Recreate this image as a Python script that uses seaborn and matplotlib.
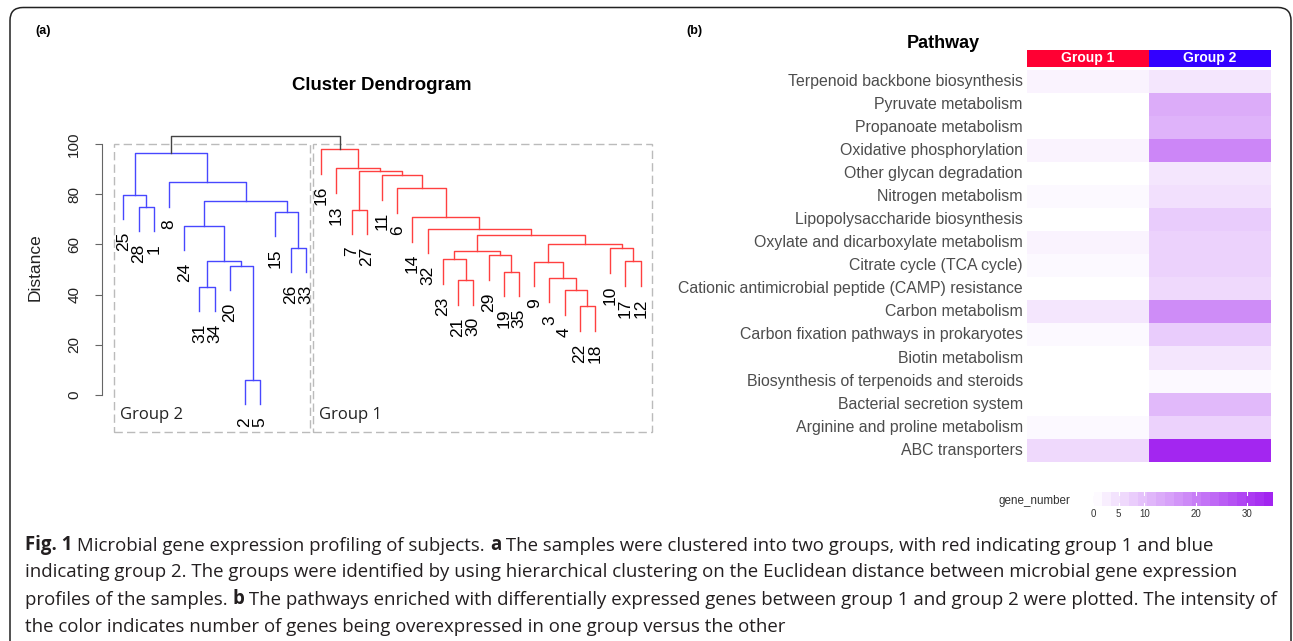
import numpy as np
import pandas as pd
import seaborn as sns
import matplotlib.pyplot as plt
from matplotlib.colors import LinearSegmentedColormap, ListedColormap, Normalize
from matplotlib.patches import Rectangle, FancyBboxPatch
from matplotlib.cm import ScalarMappable

plt.rcParams['font.family'] = ['Liberation Sans', 'DejaVu Sans']

# (a) hierarchical clustering of the 35 samples
leaf_order = [25, 28, 1, 8, 24, 31, 34, 20, 2, 5, 15, 26, 33,
              16, 13, 7, 27, 11, 6, 14, 32, 23, 21, 30, 29, 19, 35, 9, 3, 4, 22, 18, 10, 17, 12]
# hclust style merges: negative = sample id, positive = earlier merge (1-based)
merge_left = [-2, -22, -4, -31, -21, -3, -19, -20, -9, -17, 4, -23, -29, 12, -10, -26, 9,
              14, -32, -24, -14, -15, -7, -28, 20, -25, -6, -8, -11, 23, -13, 26, -16, 32]
merge_right = [-5, -18, 2, -34, -30, 3, -35, 1, 6, -12, 8, 5, 7, 13, 10, -33, 15,
               17, 18, 11, 19, 16, -27, -1, 22, 24, 21, 25, 27, 29, 30, 28, 31, 33]
merge_height = [6.0, 35.3, 41.7, 43.0, 45.7, 46.6, 49.1, 51.4, 53.1, 53.2, 53.4, 54.0, 55.6,
                57.4, 58.4, 58.7, 60.0, 63.6, 66.1, 67.3, 70.8, 73.0, 73.7, 74.9, 77.3, 79.7,
                82.3, 84.7, 87.5, 89.3, 90.3, 96.5, 97.9, 103.2]
group2_samples = leaf_order[:13]
group1_samples = leaf_order[13:]
cut_height = 100
distance_ticks = [0, 20, 40, 60, 80, 100]

# (b) pathways enriched with DE genes
pathways = ["Terpenoid backbone biosynthesis", "Pyruvate metabolism", "Propanoate metabolism",
            "Oxidative phosphorylation", "Other glycan degradation", "Nitrogen metabolism",
            "Lipopolysaccharide biosynthesis", "Oxylate and dicarboxylate metabolism",
            "Citrate cycle (TCA cycle)", "Cationic antimicrobial peptide (CAMP) resistance",
            "Carbon metabolism", "Carbon fixation pathways in prokaryotes", "Biotin metabolism",
            "Biosynthesis of terpenoids and steroids", "Bacterial secretion system",
            "Arginine and proline metabolism", "ABC transporters"]
group1_genes = [2, 0, 0, 2, 0, 1, 0, 2, 1, 0, 4, 1, 0, 0, 0, 1, 6]
group2_genes = [4, 13, 12, 19, 4, 5, 8, 7, 7, 6, 18, 8, 4, 1, 11, 7, 34]
group_names = ["Group 1", "Group 2"]
legend_ticks = [0, 5, 10, 20, 30]

RED = "#FF4040"
BLUE = "#4848FF"
GRAY = "#444444"
W, H = 1293, 641

fig = plt.figure(figsize=(W / 100, H / 100), dpi=100)


def frac(x0, y0, x1, y1):
    # pixel box -> figure fraction rect
    return [x0 / W, 1 - y1 / H, (x1 - x0) / W, (y1 - y0) / H]


# ---- dendrogram ----
ax = fig.add_axes(frac(102, 125, 662, 432))
ax.patch.set_visible(False)
xpos = {s: i + 1 for i, s in enumerate(leaf_order)}
hang = 0.1 * (max(merge_height) - min(merge_height))
node_x, node_members = {}, {}


def child(c, parent_h):
    if c < 0:
        return xpos[-c], parent_h - hang, {-c}
    return node_x[c], merge_height[c - 1], node_members[c]


for k, (a, b, h) in enumerate(zip(merge_left, merge_right, merge_height), start=1):
    xa, ya, ma = child(a, h)
    xb, yb, mb = child(b, h)
    members = ma | mb
    node_x[k] = (xa + xb) / 2
    node_members[k] = members
    if members <= set(group2_samples):
        col = BLUE
    elif members <= set(group1_samples):
        col = RED
    else:
        col = GRAY
    ax.plot([xa, xa, xb, xb], [ya, h, h, yb], color=col, lw=1)
    for c, x, y in ((a, xa, ya), (b, xb, yb)):
        if c < 0:
            ax.annotate(str(-c), (x, y), xytext=(0, -9), textcoords='offset points',
                        rotation=90, ha='center', va='top', fontsize=12.5)

ax.set_xlim(-0.4, 36.4)
ax.set_ylim(-14.7, 107.5)
ybot = ax.get_ylim()[0]

# dashed boxes around the two groups
for name, members, lo, hi in (("Group 2", group2_samples, 0.6, 0.3),
                              ("Group 1", group1_samples, 0.55, 0.75)):
    x0 = xpos[members[0]] - lo
    x1 = xpos[members[-1]] + hi
    ax.add_patch(Rectangle((x0, ybot), x1 - x0, cut_height - ybot, fill=False,
                           ec="#BBBBBB", lw=1, ls=(0, (6, 3)), clip_on=False))
    ax.text(x0 + 0.38, -7.9, name, fontsize=12, family=['Open Sans', 'DejaVu Sans'],
            va='center', ha='left', color='#222222')

for s in ("top", "right", "bottom"):
    ax.spines[s].set_visible(False)
ax.spines["left"].set_bounds(0, 100)
ax.spines["left"].set_color("#666666")
ax.set_xticks([])
ax.set_yticks(distance_ticks)
ax.set_yticklabels([str(t) for t in distance_ticks], rotation=90, va='center')
ax.tick_params(axis='y', length=5, pad=10, labelsize=11, color="#666666", labelcolor="#222222")

# ---- heatmap ----
genes = pd.DataFrame({"Group 1": group1_genes, "Group 2": group2_genes}, index=pathways)
cmap = LinearSegmentedColormap.from_list("white_purple", ["#FFFFFF", "#A020F0"])
hax = fig.add_axes(frac(1027, 70, 1271, 461.7))
sns.heatmap(genes, cmap=cmap, vmin=0, vmax=35, cbar=False, ax=hax)
hax.set_xticks([])
hax.set_xlabel("")
hax.set_ylabel("")
hax.tick_params(axis='y', length=0, pad=3, labelsize=11.4, labelcolor='#4D4D4D')
plt.setp(hax.get_yticklabels(), rotation=0)

# group header bar
tax = fig.add_axes(frac(1027, 50, 1271, 66.7))
sns.heatmap(np.array([[0, 1]]), cmap=ListedColormap(["#FF0033", "#3300FF"]), cbar=False,
            annot=np.array([group_names]), fmt="", xticklabels=False, yticklabels=False,
            annot_kws=dict(color="white", weight="bold", fontsize=10), ax=tax)

# legend bar
cax = fig.add_axes(frac(1093, 492, 1273, 506))
steps = ListedColormap(cmap((np.arange(20) + 0.5) / 20))
cb = fig.colorbar(ScalarMappable(Normalize(0, 35), steps), cax=cax, orientation='horizontal')
cb.outline.set_visible(False)
cb.set_ticks(legend_ticks)
cax.tick_params(length=0, labelsize=7, pad=2, labelcolor='#333333')
for t in legend_ticks:
    cax.axvline(t, 0, 0.22, color='white', lw=0.8)
    cax.axvline(t, 0.78, 1, color='white', lw=0.8)

# ---- free text, frame and caption (pixel coordinates) ----
bg = fig.add_axes([0, 0, 1, 1], zorder=10)
bg.set_xlim(0, W)
bg.set_ylim(H, 0)
bg.axis('off')
bg.patch.set_visible(False)

bg.add_patch(FancyBboxPatch((10, 7.5), 1281, 700, boxstyle="round,pad=0,rounding_size=13",
                            fill=False, ec='#222222', lw=1.1, clip_on=False))
bg.text(35, 31, "(a)", fontsize=9, weight='bold', va='center')
bg.text(686, 31, "(b)", fontsize=9, weight='bold', va='center')
bg.text(382, 85, "Cluster Dendrogram", fontsize=13.4, weight='bold', ha='center', va='center')
bg.text(35, 267, "Distance", fontsize=12.5, rotation=90, ha='center', va='center', color='#222222')
bg.text(943, 44, "Pathway", fontsize=13, weight='bold', ha='center', va='center')
bg.text(1070, 501, "gene_number", fontsize=8.4, ha='right', va='center', color='#333333')

caption = [
    (550, [("Fig. 1", True), (" Microbial gene expression profiling of subjects. ", False), ("a", True),
           (" The samples were clustered into two groups, with red indicating group 1 and blue", False)]),
    (577.3, [("indicating group 2. The groups were identified by using hierarchical clustering on the "
              "Euclidean distance between microbial gene expression", False)]),
    (605, [("profiles of the samples. ", False), ("b", True),
           (" The pathways enriched with differentially expressed genes between group 1 and group 2 "
            "were plotted. The intensity of", False)]),
    (631.7, [("the color indicates number of genes being overexpressed in one group versus the other", False)]),
]
for y, parts in caption:
    prev = None
    for txt, bold in parts:
        kw = dict(fontsize=13.4, family=['Open Sans', 'DejaVu Sans'], color='#231F20',
                  weight='bold' if bold else 'normal')
        if prev is None:
            prev = bg.text(25, y, txt, va='baseline', ha='left', **kw)
        else:
            prev = bg.annotate(txt, xy=(1, 0), xycoords=prev, va='bottom', ha='left', **kw)

fig.savefig("out.png", dpi=100)
